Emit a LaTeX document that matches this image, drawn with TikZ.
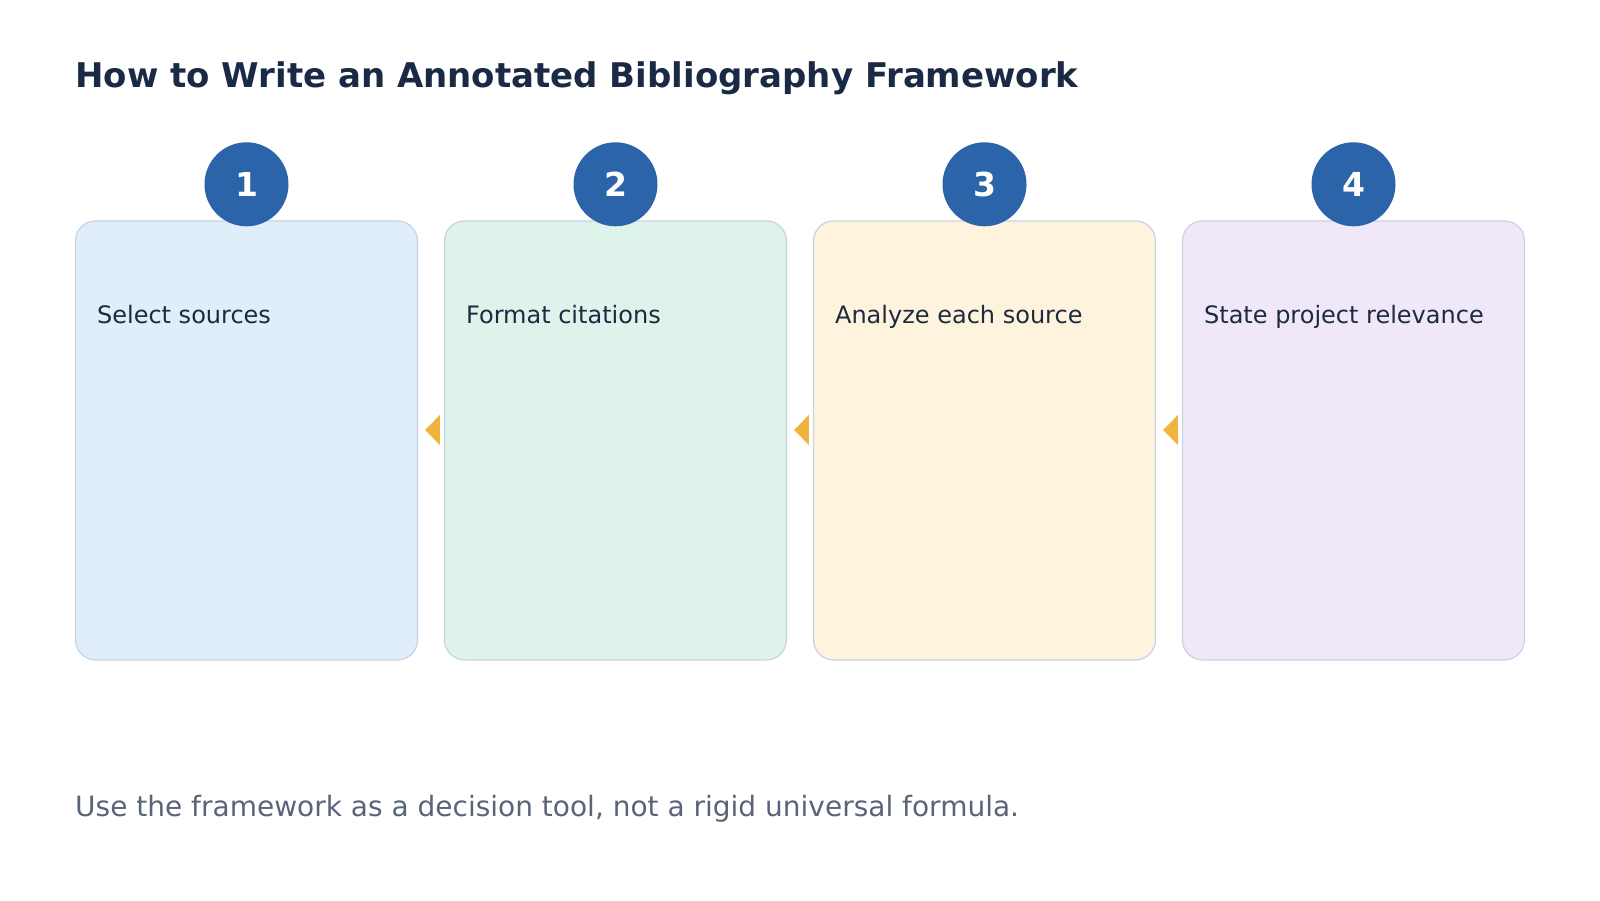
\documentclass[tikz,border=0pt]{standalone}
\usepackage{fontspec}
\setmainfont{DejaVu Sans}
\usetikzlibrary{calc}
\definecolor{titlec}{HTML}{1B2A44}
\definecolor{textc}{HTML}{1E2A3E}
\definecolor{footc}{HTML}{5A6478}
\definecolor{borderc}{HTML}{C9D3DF}
\definecolor{circc}{HTML}{2B64A8}
\definecolor{arrowc}{HTML}{F0B43C}
\definecolor{fillA}{HTML}{E0EEFB}
\definecolor{fillB}{HTML}{DDF3EB}
\definecolor{fillC}{HTML}{FEF4DE}
\definecolor{fillD}{HTML}{F0E8F9}
\begin{document}
\begin{tikzpicture}[x=1pt,y=-1pt,
  card/.style={draw=borderc, line width=1.2pt, rounded corners=20pt, minimum width=342pt, minimum height=439pt, inner sep=0pt},
  badge/.style={circle, fill=circc, minimum size=84pt, inner sep=0pt, text=white, font=\fontsize{33}{40}\selectfont\bfseries},
  cardtext/.style={anchor=base west, inner sep=0pt, text=textc, font=\fontsize{24}{29}\selectfont},
  arrowtri/.style={fill=arrowc}
]
\useasboundingbox (0,0) rectangle (1600,900);
\node[anchor=base west, inner sep=0pt, text=titlec, font=\fontsize{34}{41}\selectfont\bfseries] (title) at (75,87.3) {How to Write an Annotated Bibliography Framework};

\foreach \i/\f/\t in {1/fillA/Select sources, 2/fillB/Format citations, 3/fillC/Analyze each source, 4/fillD/State project relevance}{
  \node[card, fill=\f] (c\i) at ({246.5+(\i-1)*369},440.4) {};
  \node[badge] (b\i) at ({246.5+(\i-1)*369},184.3) {\i};
  \node[cardtext] (t\i) at ($(c\i.north west)+(22,103.2)$) {\t};
}

\foreach \a/\b in {1/2,2/3,3/4}{
  \fill[arrowtri] ($(c\a.east)+(7,-10.4)$) -- ($(c\b.west)+(-4,-25.4)$) -- ($(c\b.west)+(-4,4.6)$) -- cycle;
}

\node[anchor=base west, inner sep=0pt, text=footc, font=\fontsize{28}{34}\selectfont] (foot) at (75,816) {Use the framework as a decision tool, not a rigid universal formula.};
\end{tikzpicture}
\end{document}
